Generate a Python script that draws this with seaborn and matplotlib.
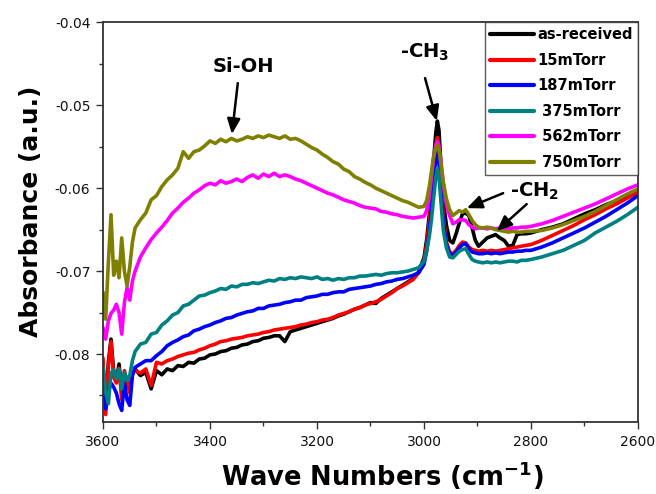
import numpy as np
import pandas as pd
import matplotlib
matplotlib.use("Agg")
import matplotlib.pyplot as plt
from matplotlib.ticker import MultipleLocator, FormatStrFormatter
import seaborn as sns

# Wavenumber grid (cm^-1)
wavenumber = (
    [3600, 3595, 3590, 3585, 3580, 3575, 3570, 3565, 3560, 3555, 3550, 3545, 3540]
    + [3530, 3520, 3510, 3500, 3490, 3480, 3470, 3460, 3450, 3440,
       3430, 3420, 3410, 3400, 3390, 3380, 3370, 3360, 3350, 3340,
       3330, 3320, 3310, 3300, 3290, 3280, 3270, 3260, 3250, 3240,
       3230, 3220, 3210, 3200, 3190, 3180, 3170, 3160, 3150, 3140,
       3130, 3120, 3110, 3100, 3090, 3080, 3070, 3060, 3050, 3040,
       3030, 3020, 3010]
    + [3000, 2995, 2990, 2986, 2982, 2978, 2975, 2972, 2968, 2964,
       2958, 2952, 2946, 2940, 2934, 2928, 2922, 2916, 2910, 2904,
       2898, 2890, 2882, 2874, 2866, 2858, 2850, 2842, 2834, 2826,
       2818, 2810, 2800]
    + [2780, 2760, 2740, 2720, 2700, 2680, 2660, 2640, 2620, 2600]
)

as_received = (
    [-0.0816, -0.0866, -0.0810, -0.0782, -0.0822, -0.0832, -0.0812, -0.0845, -0.0828, -0.0838, -0.0843, -0.0824, -0.0818]
    + [-0.0826, -0.0822, -0.0842, -0.0820, -0.0825, -0.0818, -0.0820, -0.0814, -0.0815, -0.0810,
       -0.0811, -0.0806, -0.0805, -0.0801, -0.0800, -0.0797, -0.0796, -0.0793, -0.0792, -0.0789,
       -0.0788, -0.0785, -0.0784, -0.0781, -0.0780, -0.0778, -0.0778, -0.0785, -0.0773, -0.0771,
       -0.0769, -0.0767, -0.0765, -0.0763, -0.0761, -0.0759, -0.0757, -0.0754, -0.0752, -0.0749,
       -0.0746, -0.0744, -0.0741, -0.0738, -0.0739, -0.0733, -0.0729, -0.0725, -0.0721, -0.0717,
       -0.0713, -0.0709, -0.0701]
    + [-0.0684, -0.0662, -0.0632, -0.0600, -0.0567, -0.0534, -0.0519, -0.0530, -0.0575, -0.0615,
       -0.0645, -0.0663, -0.0666, -0.0655, -0.0642, -0.0631, -0.0630, -0.0633, -0.0648, -0.0663,
       -0.0670, -0.0665, -0.0660, -0.0658, -0.0656, -0.0660, -0.0663, -0.0670, -0.0669, -0.0656,
       -0.0655, -0.0655, -0.0654]
    + [-0.0650, -0.0647, -0.0643, -0.0637, -0.0631, -0.0626, -0.0620, -0.0615, -0.0609, -0.0603]
)

p15 = (
    [-0.0805, -0.0873, -0.0815, -0.0785, -0.0828, -0.0835, -0.0817, -0.0855, -0.0820, -0.0832, -0.0847, -0.0822, -0.0820]
    + [-0.0823, -0.0818, -0.0838, -0.0810, -0.0812, -0.0808, -0.0806, -0.0803, -0.0801, -0.0799,
       -0.0798, -0.0795, -0.0793, -0.0790, -0.0788, -0.0785, -0.0784, -0.0782, -0.0781, -0.0780,
       -0.0778, -0.0777, -0.0776, -0.0774, -0.0773, -0.0771, -0.0770, -0.0769, -0.0768, -0.0767,
       -0.0765, -0.0764, -0.0762, -0.0761, -0.0759, -0.0758, -0.0756, -0.0753, -0.0751, -0.0749,
       -0.0746, -0.0744, -0.0741, -0.0739, -0.0737, -0.0734, -0.0730, -0.0726, -0.0721, -0.0718,
       -0.0714, -0.0710, -0.0702]
    + [-0.0688, -0.0668, -0.0640, -0.0610, -0.0578, -0.0550, -0.0539, -0.0550, -0.0595, -0.0633,
       -0.0665, -0.0677, -0.0679, -0.0675, -0.0669, -0.0665, -0.0666, -0.0671, -0.0674, -0.0675,
       -0.0676, -0.0675, -0.0676, -0.0675, -0.0676, -0.0675, -0.0674, -0.0673, -0.0672, -0.0671,
       -0.0670, -0.0669, -0.0668]
    + [-0.0663, -0.0657, -0.0651, -0.0645, -0.0638, -0.0632, -0.0625, -0.0619, -0.0612, -0.0605]
)

p187 = (
    [-0.0831, -0.0866, -0.0845, -0.0835, -0.0840, -0.0847, -0.0860, -0.0868, -0.0835, -0.0855, -0.0862, -0.0826, -0.0816]
    + [-0.0812, -0.0808, -0.0808, -0.0802, -0.0797, -0.0790, -0.0786, -0.0783, -0.0779, -0.0777,
       -0.0772, -0.0770, -0.0767, -0.0765, -0.0762, -0.0760, -0.0757, -0.0756, -0.0753, -0.0751,
       -0.0749, -0.0748, -0.0745, -0.0745, -0.0742, -0.0741, -0.0740, -0.0738, -0.0737, -0.0735,
       -0.0735, -0.0732, -0.0731, -0.0730, -0.0728, -0.0728, -0.0726, -0.0725, -0.0725, -0.0722,
       -0.0721, -0.0720, -0.0719, -0.0718, -0.0716, -0.0715, -0.0713, -0.0712, -0.0710, -0.0709,
       -0.0707, -0.0705, -0.0702]
    + [-0.0692, -0.0676, -0.0652, -0.0625, -0.0592, -0.0566, -0.0556, -0.0568, -0.0608, -0.0640,
       -0.0668, -0.0679, -0.0681, -0.0677, -0.0672, -0.0668, -0.0667, -0.0673, -0.0677, -0.0678,
       -0.0679, -0.0679, -0.0678, -0.0679, -0.0678, -0.0679, -0.0678, -0.0677, -0.0677, -0.0676,
       -0.0676, -0.0675, -0.0675]
    + [-0.0671, -0.0666, -0.0660, -0.0654, -0.0648, -0.0641, -0.0634, -0.0626, -0.0618, -0.0609]
)

p375 = (
    [-0.0815, -0.0847, -0.0860, -0.0823, -0.0819, -0.0830, -0.0818, -0.0842, -0.0822, -0.0832, -0.0826, -0.0808, -0.0797]
    + [-0.0788, -0.0786, -0.0776, -0.0774, -0.0765, -0.0760, -0.0753, -0.0750, -0.0742, -0.0740,
       -0.0735, -0.0730, -0.0729, -0.0726, -0.0724, -0.0721, -0.0722, -0.0718, -0.0719, -0.0716,
       -0.0716, -0.0714, -0.0715, -0.0713, -0.0711, -0.0712, -0.0709, -0.0710, -0.0708, -0.0709,
       -0.0707, -0.0708, -0.0709, -0.0707, -0.0710, -0.0709, -0.0711, -0.0709, -0.0710, -0.0708,
       -0.0708, -0.0706, -0.0706, -0.0705, -0.0704, -0.0705, -0.0703, -0.0702, -0.0702, -0.0701,
       -0.0700, -0.0698, -0.0696]
    + [-0.0688, -0.0675, -0.0658, -0.0638, -0.0612, -0.0588, -0.0576, -0.0585, -0.0618, -0.0650,
       -0.0672, -0.0683, -0.0684, -0.0680, -0.0676, -0.0674, -0.0673, -0.0680, -0.0686, -0.0688,
       -0.0689, -0.0690, -0.0689, -0.0690, -0.0689, -0.0690, -0.0689, -0.0688, -0.0688, -0.0689,
       -0.0687, -0.0687, -0.0686]
    + [-0.0683, -0.0679, -0.0675, -0.0669, -0.0663, -0.0654, -0.0647, -0.0640, -0.0632, -0.0623]
)

p562 = (
    [-0.0768, -0.0782, -0.0760, -0.0751, -0.0747, -0.0740, -0.0750, -0.0776, -0.0738, -0.0720, -0.0735, -0.0712, -0.0700]
    + [-0.0683, -0.0672, -0.0662, -0.0654, -0.0647, -0.0639, -0.0630, -0.0624, -0.0617, -0.0612,
       -0.0606, -0.0602, -0.0597, -0.0594, -0.0596, -0.0591, -0.0594, -0.0592, -0.0589, -0.0592,
       -0.0587, -0.0584, -0.0588, -0.0583, -0.0586, -0.0582, -0.0586, -0.0584, -0.0586, -0.0589,
       -0.0591, -0.0594, -0.0597, -0.0600, -0.0603, -0.0606, -0.0608, -0.0611, -0.0614, -0.0616,
       -0.0618, -0.0621, -0.0623, -0.0624, -0.0625, -0.0628, -0.0629, -0.0631, -0.0632, -0.0634,
       -0.0635, -0.0636, -0.0635]
    + [-0.0634, -0.0627, -0.0610, -0.0588, -0.0563, -0.0548, -0.0544, -0.0549, -0.0570, -0.0594,
       -0.0620, -0.0633, -0.0643, -0.0641, -0.0638, -0.0638, -0.0639, -0.0644, -0.0647, -0.0649,
       -0.0648, -0.0648, -0.0649, -0.0648, -0.0649, -0.0648, -0.0649, -0.0649, -0.0648, -0.0648,
       -0.0647, -0.0647, -0.0646]
    + [-0.0643, -0.0639, -0.0634, -0.0629, -0.0624, -0.0619, -0.0613, -0.0607, -0.0601, -0.0596]
)

p750 = (
    [-0.0725, -0.0758, -0.0690, -0.0632, -0.0705, -0.0688, -0.0708, -0.0660, -0.0700, -0.0718, -0.0695, -0.0665, -0.0648]
    + [-0.0638, -0.0630, -0.0614, -0.0609, -0.0598, -0.0590, -0.0584, -0.0576, -0.0556, -0.0564,
       -0.0556, -0.0554, -0.0549, -0.0543, -0.0546, -0.0541, -0.0544, -0.0540, -0.0543, -0.0541,
       -0.0538, -0.0540, -0.0537, -0.0539, -0.0536, -0.0538, -0.0540, -0.0537, -0.0541, -0.0540,
       -0.0543, -0.0547, -0.0551, -0.0554, -0.0559, -0.0563, -0.0568, -0.0571, -0.0577, -0.0580,
       -0.0586, -0.0589, -0.0593, -0.0596, -0.0600, -0.0603, -0.0606, -0.0609, -0.0612, -0.0615,
       -0.0617, -0.0620, -0.0623]
    + [-0.0622, -0.0615, -0.0598, -0.0580, -0.0562, -0.0552, -0.0548, -0.0553, -0.0572, -0.0592,
       -0.0613, -0.0626, -0.0633, -0.0630, -0.0627, -0.0629, -0.0626, -0.0632, -0.0639, -0.0644,
       -0.0647, -0.0648, -0.0647, -0.0648, -0.0650, -0.0651, -0.0652, -0.0653, -0.0652, -0.0653,
       -0.0653, -0.0652, -0.0652]
    + [-0.0651, -0.0648, -0.0644, -0.0639, -0.0634, -0.0628, -0.0621, -0.0614, -0.0607, -0.0601]
)

samples = ["as-received", "15mTorr", "187mTorr", "375mTorr", "562mTorr", "750mTorr"]
legend_labels = ["as-received", "15mTorr", "187mTorr", " 375mTorr", " 562mTorr", " 750mTorr"]
colors = ["#000000", "#ff0000", "#0000ff", "#008080", "#ff00ff", "#808000"]
series = [as_received, p15, p187, p375, p562, p750]

df = pd.concat(
    [pd.DataFrame({"wavenumber": wavenumber, "absorbance": vals, "sample": name})
     for name, vals in zip(samples, series)],
    ignore_index=True,
)

sns.set_style("ticks")
plt.rcParams["font.family"] = ["DejaVu Sans"]
plt.rcParams["axes.unicode_minus"] = False
plt.rcParams["mathtext.fontset"] = "dejavusans"
plt.rcParams["mathtext.default"] = "bf"
plt.rcParams["text.color"] = "black"
plt.rcParams["axes.labelcolor"] = "black"

fig = plt.figure(figsize=(6.56, 4.94), dpi=100)
ax = fig.add_axes([0.157, 0.1457, 0.8155, 0.8091])

sns.lineplot(data=df, x="wavenumber", y="absorbance", hue="sample",
             hue_order=samples, palette=colors, estimator=None,
             linewidth=2.6, ax=ax)

ax.set_xlim(3600, 2600)
ax.set_ylim(-0.0882, -0.04)
ax.xaxis.set_major_locator(MultipleLocator(200))
ax.xaxis.set_minor_locator(MultipleLocator(100))
ax.yaxis.set_major_locator(MultipleLocator(0.01))
ax.yaxis.set_minor_locator(MultipleLocator(0.005))
ax.yaxis.set_major_formatter(FormatStrFormatter("%.2f"))
ax.xaxis.set_major_formatter(FormatStrFormatter("%d"))

ax.tick_params(which="major", direction="out", length=5, width=1.0,
               labelsize=10, colors="#333333", labelcolor="#111111", pad=4)
ax.tick_params(which="minor", direction="out", length=3, width=1.0, colors="#333333")
for s in ax.spines.values():
    s.set_visible(True)
    s.set_color("#333333")
    s.set_linewidth(1.3)

ax.set_xlabel("Wave Numbers (cm$^{-1}$)", fontsize=18.5, fontweight="bold")
ax.set_ylabel("Absorbance (a.u.)", fontsize=18, fontweight="bold")
ax.xaxis.set_label_coords(0.523, -0.095)
ax.yaxis.set_label_coords(-0.112, 0.528)
ax.xaxis.label.set_va("top")

handles, _ = ax.get_legend_handles_labels()
leg = ax.legend(handles, legend_labels, loc="upper right", bbox_to_anchor=(1, 1),
                borderaxespad=0, fancybox=False, frameon=True,
                prop={"weight": "bold", "size": 10.5},
                handlelength=3.0, handletextpad=0.25, labelspacing=0.72,
                borderpad=0.35)
leg.get_frame().set_edgecolor("#333333")
leg.get_frame().set_linewidth(1.0)
for line in leg.get_lines():
    line.set_linewidth(3.0)

arrow_kw = dict(arrowstyle="-|>,head_length=0.65,head_width=0.28", color="black",
                lw=1.8, shrinkA=0, shrinkB=0, mutation_scale=14)

ax.text(3337, -0.04527, "Si-OH", fontsize=14, fontweight="bold", ha="center", va="center")
ax.annotate("", xy=(3359, -0.05348), xytext=(3348, -0.04733), arrowprops=arrow_kw)

ax.text(3045, -0.0443, "-CH$_3$", fontsize=14, fontweight="bold", ha="left", va="baseline")
ax.annotate("", xy=(2976, -0.0519), xytext=(2998, -0.04673), arrowprops=arrow_kw)

ax.text(2839, -0.06107, "-CH$_2$", fontsize=14, fontweight="bold", ha="left", va="baseline")
ax.annotate("", xy=(2920, -0.06241), xytext=(2852, -0.0606), arrowprops=arrow_kw)
ax.annotate("", xy=(2864, -0.06517), xytext=(2808, -0.06192), arrowprops=arrow_kw)

fig.savefig("out.png", dpi=100)
